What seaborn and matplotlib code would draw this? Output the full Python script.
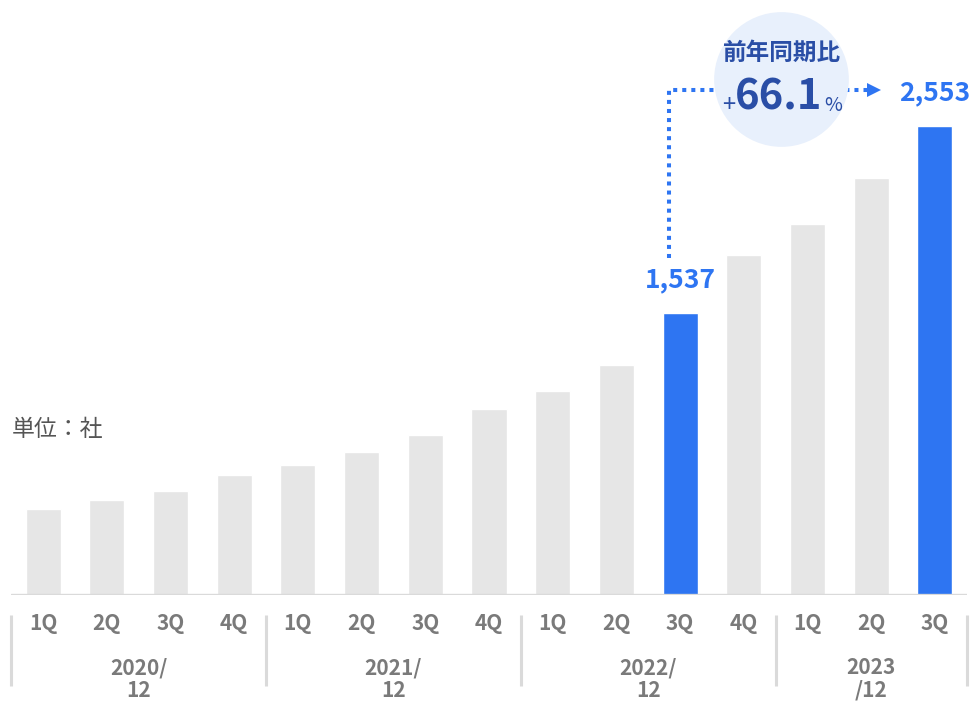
import matplotlib
matplotlib.use("Agg")
import matplotlib.pyplot as plt
import seaborn as sns
import pandas as pd

# ---- data ----
years = ["2020", "2020", "2020", "2020", "2021", "2021", "2021", "2021",
         "2022", "2022", "2022", "2022", "2023", "2023", "2023"]
quarters = ["1Q", "2Q", "3Q", "4Q", "1Q", "2Q", "3Q", "4Q",
            "1Q", "2Q", "3Q", "4Q", "1Q", "2Q", "3Q"]
values = [468, 517, 568, 652, 708, 777, 871, 1013,
          1111, 1253, 1537, 1852, 2022, 2273, 2553]
highlight = [False] * 10 + [True] + [False] * 3 + [True]
group_labels = ["2020/\n12", "2021/\n12", "2022/\n12", "2023\n/12"]
unit_label = "単位：社"
yoy_title = "前年同期比"
yoy_value = "66.1"

GRAY = "#e6e6e6"
BLUE = "#2e75f2"
DARK_BLUE = "#2a4ea6"
TICK_GRAY = "#7a7a7a"
LINE_GRAY = "#dadada"

df = pd.DataFrame({
    "period": [f"{y}-{q}" for y, q in zip(years, quarters)],
    "value": values,
    "hl": highlight,
})

sns.set_theme(style="white")
plt.rcParams["font.family"] = ["Noto Sans CJK JP", "DejaVu Sans"]

W, H = 973, 701
fig = plt.figure(figsize=(W / 100, H / 100), dpi=100)
ax = fig.add_axes([11 / W, (H - 595) / H, 956 / W, 595 / H])

sns.barplot(data=df, x="period", y="value", hue="hl",
            palette={False: GRAY, True: BLUE}, dodge=False,
            legend=False, width=0.55, ax=ax, saturation=1)

n = len(values)
ax.set_xlim(-0.505, n - 1 + 0.505)
ax.set_ylim(0, 595 / 0.1836)
for s in ax.spines.values():
    s.set_visible(False)
ax.set_yticks([])
ax.set_xlabel("")
ax.set_ylabel("")
ax.axhline(0, color=LINE_GRAY, lw=2.4, zorder=5)

ax.set_xticks(range(n))
ax.set_xticklabels(quarters, fontsize=15, color=TICK_GRAY, fontweight="bold")
ax.tick_params(axis="x", length=0, pad=13)

# group separators and labels
xt = ax.get_xaxis_transform()
seps = [-0.5]
start = 0
starts = []
for i in range(1, n + 1):
    if i == n or years[i] != years[i - 1]:
        starts.append((start, i - 1))
        seps.append(i - 0.5)
        start = i
ax.vlines(seps, -20 / 595, -91 / 595, transform=xt, colors=LINE_GRAY,
          lw=2.2, clip_on=False)
for (a, b), lab in zip(starts, group_labels):
    ax.text((a + b) / 2, -84 / 595, lab, transform=xt, ha="center",
            va="center", fontsize=15, color=TICK_GRAY, fontweight="bold",
            linespacing=1.1, multialignment="center")

# value labels for highlighted bars
for i, (v, h) in enumerate(zip(values, highlight)):
    if h:
        ax.annotate(f"{v:,}", (i, v), xytext=(0, 24), textcoords="offset points",
                    ha="center", va="center", fontsize=19, fontweight="bold",
                    color=BLUE)

# unit label
fig.text(12 / W, 1 - 430 / H, unit_label, ha="left", va="center",
         fontsize=16.5, color="#555555")

# callout: dotted connector + circle
i0 = highlight.index(True)
cx, cy = 11.585, 2810
hy = 2750
xv = i0 - 0.17
ax.plot([xv, xv, 12.93], [1835, hy, hy], color=BLUE, lw=2.9,
        linestyle=(0, (1, 1.25)), dash_capstyle="butt", zorder=3,
        solid_joinstyle="miter")
ax.plot([13.04], [hy], marker=">", markersize=10, color=BLUE, zorder=3,
        markeredgewidth=0)
ax.plot([cx], [cy], marker="o", markersize=97, color="#e8f0fc",
        markeredgewidth=0, zorder=4, clip_on=False)
ax.text(11.6, 2955, yoy_title, ha="center", va="center", fontsize=17,
        fontweight="bold", color=DARK_BLUE, zorder=6)
ax.text(11.55, 2707, yoy_value, ha="center", va="center", fontsize=30,
        fontweight="bold", color=DARK_BLUE, zorder=6)
ax.text(10.77, 2665, "+", ha="center", va="center", fontsize=17,
        color=DARK_BLUE, zorder=6)
ax.text(12.4, 2668, "%", ha="center", va="center", fontsize=14,
        color=DARK_BLUE, zorder=6)

fig.savefig("out.png", dpi=100)
